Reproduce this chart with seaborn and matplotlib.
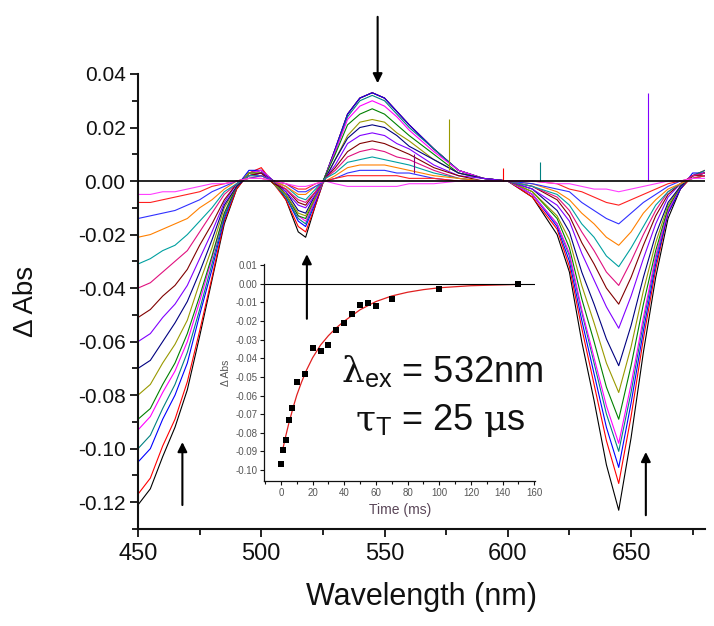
import matplotlib
matplotlib.use('Agg')
import matplotlib.pyplot as plt
import seaborn as sns
import numpy as np
import pandas as pd
from matplotlib.ticker import MultipleLocator, FormatStrFormatter

# Wavelength grid (nm) shared by all transient spectra
wavelength = [450, 455, 460, 465, 470, 475, 480, 485, 490, 495, 500, 505,
              510, 515, 518, 522, 526, 530, 535, 540, 545, 550, 555, 560,
              570, 580, 590, 600, 610, 620, 625, 630, 635, 640, 645, 650,
              655, 660, 665, 670, 675, 680]

# Transient spectra in mAbs, earliest delay first
spec_01 = [-121, -115, -103, -92, -78, -58, -37, -16, -3, 3, 4, 0, -7, -19, -21, -9,
           2, 12, 25, 31, 33, 31, 26, 21, 12, 4, 1, 0,
           -6, -20, -34, -60, -82, -106, -123, -96, -64, -36, -14, -3, 2, 3]
spec_02 = [-117, -111, -99, -89, -75, -56, -36, -15, -3, 3, 5, -1, -7, -17, -19, -9,
           2, 12, 25, 31, 33, 31, 26, 21, 12, 4, 1, 0,
           -6, -18, -32, -55, -76, -97, -113, -88, -59, -33, -12, -3, 2, 4]
spec_03 = [-105, -100, -89, -80, -68, -50, -33, -14, -2, 4, 4, 0, -6, -15, -17, -8,
           2, 12, 25, 31, 33, 31, 26, 21, 12, 4, 1, 0,
           -5, -17, -30, -52, -72, -92, -107, -83, -56, -31, -12, -3, 3, 3]
spec_04 = [-100, -95, -85, -76, -64, -48, -31, -13, -2, 3, 4, -1, -6, -14, -16, -7,
           2, 11, 24, 30, 32, 30, 25, 20, 12, 4, 1, 0,
           -5, -16, -28, -49, -68, -87, -101, -79, -53, -29, -11, -2, 2, 4]
spec_05 = [-93, -88, -79, -71, -60, -45, -29, -12, -2, 3, 4, 0, -5, -13, -15, -7,
           2, 11, 23, 28, 30, 28, 24, 19, 11, 4, 1, 0,
           -5, -16, -27, -48, -66, -84, -98, -76, -51, -28, -11, -2, 2, 3]
spec_06 = [-89, -85, -76, -68, -57, -43, -28, -12, -2, 3, 3, 0, -5, -13, -14, -6,
           2, 10, 21, 25, 27, 25, 21, 17, 10, 3, 1, 0,
           -4, -14, -25, -44, -60, -77, -89, -69, -46, -26, -10, -2, 2, 3]
spec_07 = [-80, -76, -68, -61, -52, -38, -25, -10, -2, 3, 3, -1, -5, -12, -13, -6,
           1, 8, 17, 22, 23, 22, 18, 15, 8, 3, 1, 0,
           -4, -13, -22, -39, -53, -68, -79, -62, -41, -23, -9, -2, 2, 3]
spec_08 = [-70, -67, -60, -53, -45, -34, -22, -9, -2, 2, 3, 0, -4, -11, -12, -5,
           1, 8, 16, 20, 21, 20, 17, 13, 8, 3, 1, 0,
           -3, -11, -19, -34, -46, -59, -69, -54, -36, -20, -8, -2, 2, 3]
spec_09 = [-60, -57, -51, -46, -39, -29, -19, -8, -1, 2, 3, 0, -4, -9, -10, -5,
           1, 6, 14, 17, 18, 17, 14, 12, 6, 2, 1, 0,
           -3, -9, -15, -27, -37, -47, -55, -43, -29, -16, -6, -1, 2, 3]
spec_10 = [-51, -48, -43, -39, -33, -24, -16, -7, -1, 2, 3, -1, -3, -8, -9, -4,
           1, 5, 11, 14, 15, 14, 12, 10, 5, 2, 0, 0,
           -2, -7, -13, -23, -31, -40, -46, -36, -24, -13, -5, -1, 2, 2]
spec_11 = [-40, -38, -34, -30, -26, -19, -12, -5, -1, 2, 2, 0, -3, -7, -8, -4,
           1, 4, 9, 11, 12, 11, 9, 8, 4, 1, 0, 0,
           -2, -6, -11, -19, -26, -34, -39, -30, -20, -11, -4, -1, 2, 3]
spec_12 = [-31, -29, -26, -24, -20, -15, -10, -4, -1, 2, 2, 0, -2, -6, -7, -3,
           1, 3, 7, 8, 9, 8, 7, 6, 3, 1, 0, 0,
           -2, -5, -9, -16, -21, -28, -32, -25, -17, -9, -4, -1, 1, 2]
spec_13 = [-21, -20, -18, -16, -14, -10, -7, -3, 0, 1, 2, 0, -2, -5, -5, -2,
           0, 2, 5, 6, 6, 6, 5, 4, 2, 1, 0, 0,
           -1, -4, -7, -12, -16, -21, -24, -19, -12, -7, -3, -1, 1, 2]
spec_14 = [-14, -13, -12, -11, -9, -7, -4, -2, 0, 1, 2, 0, -1, -4, -4, -2,
           0, 1, 3, 4, 4, 4, 3, 3, 1, 0, 0, 0,
           -1, -3, -4, -8, -11, -14, -16, -12, -8, -5, -2, 0, 1, 2]
spec_15 = [-8, -8, -7, -6, -5, -4, -2, -1, 0, 1, 1, 0, -1, -3, -3, -1,
           0, 1, 2, 2, 2, 2, 2, 1, 1, 0, 0, 0,
           0, -1, -3, -4, -6, -8, -9, -7, -5, -3, -1, 0, 1, 2]
spec_16 = [-5, -5, -4, -4, -3, -2, -1, -1, 0, 1, 1, 0, -1, -2, -2, -1,
           0, -1, -2, -2, -2, -2, -2, -1, -1, 0, 0, 0,
           0, -1, -1, -2, -3, -3, -4, -3, -2, -1, 0, 0, 1, 1]

spectra = [spec_01, spec_02, spec_03, spec_04, spec_05, spec_06, spec_07, spec_08,
           spec_09, spec_10, spec_11, spec_12, spec_13, spec_14, spec_15, spec_16]

# Origin-like line colours
trace_colors = ['#000000', '#ff0000', '#0000ff', '#008080', '#ff00ff', '#008000',
                '#999900', '#000080', '#8000ff', '#800000', '#e0107e', '#00a0a0',
                '#ff8000', '#3030ff', '#ff2020', '#ff40ff']

# Isolated spikes in a few spectra
spike_wl = [576, 657, 562, 613, 598]
spike_low = [0.004, 0.000, 0.003, 0.000, 0.000]
spike_top = [0.023, 0.033, 0.010, 0.007, 0.005]
spike_color = ['#999900', '#8000ff', '#800080', '#008080', '#ff0000']

# Inset: kinetic trace (Delta Abs vs time) and mono-exponential fit
kin_time = [0, 1, 3, 5, 7, 10, 15, 20, 25, 30, 35, 40, 45, 50, 55, 60, 70, 100, 150]
kin_dabs = [-0.0968, -0.0893, -0.0840, -0.0733, -0.0667, -0.0526, -0.0483, -0.0346,
            -0.0358, -0.0328, -0.0250, -0.0212, -0.0160, -0.0112, -0.0102, -0.0118,
            -0.0084, -0.0025, 0.0000]
fit_time = [1, 3, 5, 8, 10, 13, 16, 20, 25, 30, 35, 40, 50, 60, 70, 80, 90, 100, 120, 150]
fit_dabs = [-0.0895, -0.0818, -0.0748, -0.0655, -0.0598, -0.0528, -0.0466, -0.0397,
            -0.0329, -0.0278, -0.0236, -0.0200, -0.0139, -0.0095, -0.0065, -0.0045,
            -0.0031, -0.0021, -0.0010, -0.0003]

# long-form table for seaborn
rows = []
for i, spec in enumerate(spectra):
    for wl, v in zip(wavelength, spec):
        rows.append({'trace': f't{i:02d}', 'wl': wl, 'dabs': v / 1000.0})
df = pd.DataFrame(rows)
hue_order = [f't{i:02d}' for i in range(len(spectra))]

sns.set_style('ticks')
plt.rcParams['font.family'] = ['Liberation Sans', 'DejaVu Sans']
plt.rcParams['mathtext.fontset'] = 'custom'
plt.rcParams['mathtext.rm'] = 'DejaVu Serif'
plt.rcParams['mathtext.sf'] = 'Liberation Sans'
plt.rcParams['mathtext.it'] = 'DejaVu Serif:italic'
for key in ['text.color', 'axes.labelcolor', 'xtick.color', 'ytick.color', 'axes.edgecolor']:
    plt.rcParams[key] = '#111111'

fig = plt.figure(figsize=(7.14, 6.26), dpi=100)
ax = fig.add_axes([0.1933, 0.1550, 0.7941, 0.7268])

sns.lineplot(data=df, x='wl', y='dabs', hue='trace', hue_order=hue_order,
             palette=trace_colors, legend=False, lw=0.8, sort=False,
             estimator=None, ax=ax)
for wl, lo, hi, c in zip(spike_wl, spike_low, spike_top, spike_color):
    ax.vlines(wl, lo, hi, color=c, lw=0.8)
ax.axhline(0, color='black', lw=1.2, zorder=3)

ax.set_xlim(450, 680)
ax.set_ylim(-0.13, 0.04)
ax.xaxis.set_major_locator(MultipleLocator(50))
ax.xaxis.set_minor_locator(MultipleLocator(25))
ax.yaxis.set_major_locator(MultipleLocator(0.02))
ax.yaxis.set_minor_locator(MultipleLocator(0.01))
ax.yaxis.set_major_formatter(FormatStrFormatter('%.2f'))
ax.tick_params(axis='both', which='major', direction='out', length=6, width=1.3)
ax.tick_params(axis='both', which='minor', direction='out', length=4, width=1.3)
ax.tick_params(axis='x', labelsize=17, pad=4)
ax.tick_params(axis='y', labelsize=15, pad=3)
for s in ['left', 'bottom']:
    ax.spines[s].set_linewidth(1.5)
sns.despine(ax=ax)
ax.set_xlabel('Wavelength (nm)', fontsize=22, labelpad=12)
ax.set_ylabel('\u0394 Abs', fontsize=20, labelpad=28)

# arrows showing the evolution of the bands
arrow_kw = dict(arrowstyle='-|>', color='black', lw=1.5, mutation_scale=14)
ax.annotate('', xy=(547.2, 0.0355), xytext=(547.2, 0.0624), arrowprops=arrow_kw,
            annotation_clip=False)
ax.annotate('', xy=(468.0, -0.0965), xytext=(468.0, -0.1221), arrowprops=arrow_kw)
ax.annotate('', xy=(518.5, -0.0263), xytext=(518.5, -0.0525), arrowprops=arrow_kw)
ax.annotate('', xy=(656.0, -0.1002), xytext=(656.0, -0.1259), arrowprops=arrow_kw)

# inset with the kinetic trace
axin = fig.add_axes([0.3702, 0.2321, 0.3791, 0.3457])
axin.patch.set_alpha(0)
sns.lineplot(x=fit_time, y=fit_dabs, color='#e02020', lw=0.9, ax=axin)
sns.scatterplot(x=kin_time, y=kin_dabs, marker='s', color='black', s=13,
                edgecolor='black', linewidth=0, ax=axin, zorder=3)
axin.axhline(0, color='black', lw=0.8)
axin.set_xlim(-10.5, 160.5)
axin.set_ylim(-0.1057, 0.0105)
axin.xaxis.set_major_locator(MultipleLocator(20))
axin.xaxis.set_minor_locator(MultipleLocator(10))
axin.yaxis.set_major_locator(MultipleLocator(0.01))
axin.yaxis.set_major_formatter(FormatStrFormatter('%.2f'))
axin.tick_params(axis='both', which='major', length=3, width=0.8, labelsize=7,
                 labelcolor='#555555', pad=2)
axin.tick_params(axis='both', which='minor', length=2, width=0.8)
for s in ['left', 'bottom']:
    axin.spines[s].set_linewidth(0.9)
sns.despine(ax=axin)
axin.set_xlabel('Time (ms)', fontsize=10, color='#5a4658', labelpad=4)
axin.set_ylabel('\u0394 Abs', fontsize=7.5, color='#555555', labelpad=3)

# excitation wavelength and triplet lifetime
fig.text(0.6186, 0.3887, r'$\mathrm{\lambda}_{\mathsf{ex}}$ = 532nm', fontsize=26,
         ha='center', va='baseline')
fig.text(0.6162, 0.3131, r'$\mathrm{\tau}_{\mathsf{T}}$ = 25 $\mathrm{\mu}$s', fontsize=26,
         ha='center', va='baseline')

fig.savefig('out.png', dpi=100)
plt.close(fig)
